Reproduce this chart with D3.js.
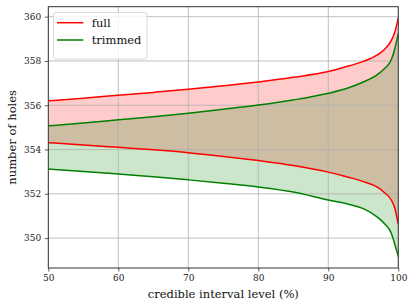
<!DOCTYPE html>
<html>
<head>
<meta charset="utf-8">
<script src="https://cdn.jsdelivr.net/npm/d3@7"></script>
<style>
  html, body { margin: 0; padding: 0; background: #fff; }
  svg { display: block; font-family: "DejaVu Serif", serif; }
</style>
</head>
<body>
<svg id="chart" width="415" height="307"></svg>
<script>
// ---- data ----
const levels = [50, 55, 60, 65, 70, 75, 80, 85, 90, 93, 95, 97, 98, 99, 99.5, 100];
const fullUpper = [356.20, 356.32, 356.45, 356.58, 356.72, 356.88, 357.05, 357.26, 357.52, 357.78, 357.98, 358.27, 358.52, 358.92, 359.30, 359.95];
const fullLower = [354.31, 354.21, 354.10, 353.99, 353.86, 353.69, 353.50, 353.28, 352.98, 352.74, 352.55, 352.30, 352.06, 351.72, 351.35, 350.62];
const trimUpper = [355.07, 355.20, 355.34, 355.48, 355.64, 355.82, 356.01, 356.24, 356.54, 356.80, 357.05, 357.38, 357.65, 358.05, 358.55, 359.25];
const trimLower = [353.12, 353.01, 352.89, 352.77, 352.63, 352.48, 352.31, 352.08, 351.72, 351.52, 351.33, 350.95, 350.66, 350.22, 349.72, 349.17];
const xTicks = [50, 60, 70, 80, 90, 100];
const yTicks = [350, 352, 354, 356, 358, 360];
const seriesNames = ["full", "trimmed"];
const seriesColors = ["#ff0000", "#008000"];
const xDomain = [50, 100];
const yDomain = [348.65, 360.45];

(function () {
// ---- layout ----
const svg = d3.select("#chart");
const mLeft = 48.3, mRight = 398.3, mTop = 6.7, mBottom = 268;
const x = d3.scaleLinear().domain(xDomain).range([mLeft, mRight]);
const y = d3.scaleLinear().domain(yDomain).range([mBottom, mTop]);

svg.append("defs").append("clipPath").attr("id", "clip")
  .append("rect").attr("x", mLeft).attr("y", mTop).attr("width", mRight - mLeft).attr("height", mBottom - mTop);

const plot = svg.append("g").attr("clip-path", "url(#clip)");

const series = [
  { name: seriesNames[0], color: seriesColors[0], up: fullUpper, lo: fullLower },
  { name: seriesNames[1], color: seriesColors[1], up: trimUpper, lo: trimLower }
];

const curve = d3.curveMonotoneX;
// fills
series.forEach(s => {
  const area = d3.area()
    .x((d, i) => x(levels[i]))
    .y0((d, i) => y(s.lo[i]))
    .y1((d, i) => y(s.up[i]))
    .curve(curve);
  plot.append("path").datum(levels).attr("d", area)
    .attr("fill", s.color).attr("fill-opacity", 0.2).attr("stroke", "none");
});

// grid
const grid = plot.append("g");
xTicks.forEach(t => grid.append("line")
  .attr("x1", x(t)).attr("x2", x(t)).attr("y1", mTop).attr("y2", mBottom)
  .attr("stroke", "#b0b0b0").attr("stroke-width", 0.8));
yTicks.forEach(t => grid.append("line")
  .attr("x1", mLeft).attr("x2", mRight).attr("y1", y(t)).attr("y2", y(t))
  .attr("stroke", "#b0b0b0").attr("stroke-width", 0.8));

// lines
series.forEach(s => {
  [s.up, s.lo].forEach(arr => {
    const line = d3.line().x((d, i) => x(levels[i])).y((d, i) => y(arr[i])).curve(curve);
    plot.append("path").datum(levels).attr("d", line)
      .attr("fill", "none").attr("stroke", s.color).attr("stroke-width", 1.5);
  });
});

// axes
const xAxis = d3.axisBottom(x).tickValues(xTicks).tickSize(3.5).tickPadding(3.5).tickFormat(d3.format("d"));
const yAxis = d3.axisLeft(y).tickValues(yTicks).tickSize(3.5).tickPadding(3.5).tickFormat(d3.format("d"));

const gx = svg.append("g").attr("transform", `translate(0,${mBottom})`).call(xAxis);
const gy = svg.append("g").attr("transform", `translate(${mLeft},0)`).call(yAxis);
[gx, gy].forEach(g => {
  g.select(".domain").remove();
  g.selectAll("line").attr("stroke", "#333").attr("stroke-width", 0.8);
  g.selectAll("text").attr("font-family", "DejaVu Serif, serif").attr("font-size", 9).attr("fill", "#222");
});

// spines
svg.append("rect").attr("x", mLeft).attr("y", mTop).attr("width", mRight - mLeft).attr("height", mBottom - mTop)
  .attr("fill", "none").attr("stroke", "#333").attr("stroke-width", 1);

// axis labels
svg.append("text").attr("x", (mLeft + mRight) / 2).attr("y", 298)
  .attr("text-anchor", "middle").attr("font-size", 11.5).attr("fill", "#111")
  .text("credible interval level (%)");
svg.append("text").attr("transform", `translate(16,${(mTop + mBottom) / 2}) rotate(-90)`)
  .attr("text-anchor", "middle").attr("font-size", 11.5).attr("fill", "#111")
  .text("number of holes");

// legend
const lg = svg.append("g");
lg.append("rect").attr("x", 53.5).attr("y", 12.5).attr("width", 93.5).attr("height", 46.5)
  .attr("rx", 2.5).attr("fill", "#fff").attr("fill-opacity", 0.8)
  .attr("stroke", "#d0d0d0").attr("stroke-width", 0.8);
series.forEach((s, i) => {
  const yy = 22.7 + i * 17.3;
  lg.append("line").attr("x1", 57).attr("x2", 83.3).attr("y1", yy).attr("y2", yy)
    .attr("stroke", s.color).attr("stroke-width", 1.5);
  lg.append("text").attr("x", 91.7).attr("y", yy + 4).attr("font-size", 11.5).attr("fill", "#111")
    .text(s.name);
});
})();
</script>
</body>
</html>
